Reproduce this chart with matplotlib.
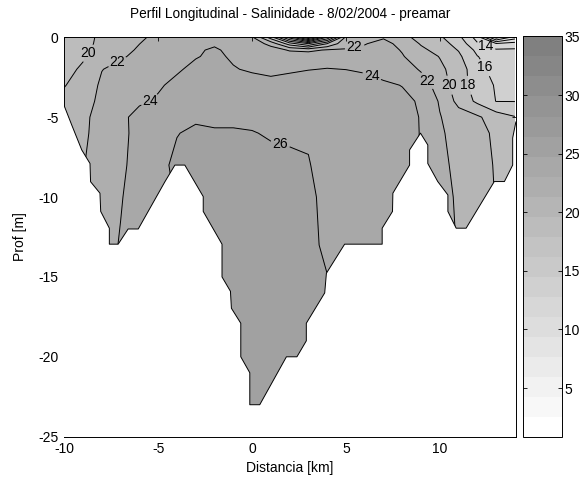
import numpy as np
import matplotlib
matplotlib.use("Agg")
import matplotlib.pyplot as plt
from matplotlib.colors import ListedColormap, Normalize
from matplotlib.cm import ScalarMappable

plt.rcParams['font.family'] = ['Liberation Sans', 'DejaVu Sans']
plt.rcParams['font.size'] = 10
plt.rcParams['axes.unicode_minus'] = False

# Stations along the section (km) and sampling depths (m)
dist_km = [-10, -9, -8, -7, -6, -5, -4, -3, -2, -1, 0, 1, 2, 3, 4,
           5, 6, 7, 8, 9, 10, 11, 12, 13, 14]
depth_m = [0, -0.4, -0.8, -1.2, -2, -3, -4, -5, -6, -8, -10, -13, -16, -20, -25]

# Salinity at each depth, one value per station
sal_00 = [17.9, 19.5, 20.3, 21.2, 21.8, 22.3, 23.0, 23.6, 23.85, 23.6, 22.3, 17.0, 9.0,
          1.5, 10.0, 20.5, 21.7, 21.9, 20.6, 19.3, 18.3, 16.5, 13.2, 5.0, 9.0]
sal_04 = [19.0, 19.5, 20.4, 21.3, 21.98, 22.6, 23.2, 23.7, 23.9, 23.7, 23.3, 21.3, 17.0,
          14.0, 18.0, 21.6, 21.95, 22.3, 21.7, 19.8, 18.8, 17.3, 14.2, 12.2, 12.8]
sal_08 = [19.0, 19.6, 20.6, 21.5, 22.2, 22.9, 23.4, 23.9, 24.1, 23.8, 23.5, 23.0, 21.8,
          21.5, 22.2, 22.1, 22.2, 22.6, 21.9, 20.5, 19.2, 17.9, 15.5, 14.3, 14.3]
sal_12 = [19.3, 19.85, 20.9, 21.8, 22.4, 23.0, 23.5, 23.9, 24.3, 23.8, 23.6, 23.4, 23.2,
          23.3, 23.4, 23.0, 22.9, 22.7, 22.1, 21.2, 19.9, 18.4, 16.05, 15.2, 15.0]
sal_20 = [19.6, 20.2, 21.95, 22.5, 22.9, 23.3, 23.8, 24.4, 24.7, 24.1, 23.8, 23.6, 23.8,
          23.95, 24.05, 23.98, 23.8, 23.3, 22.9, 21.8, 20.5, 18.9, 16.9, 15.0, 14.8]
sal_30 = [19.9, 20.9, 22.3, 22.9, 23.3, 23.8, 24.4, 24.8, 25.0, 24.9, 24.7, 24.5, 24.6,
          24.8, 24.9, 24.8, 24.6, 24.3, 23.95, 22.9, 21.2, 18.8, 17.2, 15.8, 15.4]
sal_40 = [20.6, 21.2, 22.5, 23.2, 23.7, 24.2, 24.7, 25.2, 25.5, 25.6, 25.4, 25.2, 25.2,
          25.4, 25.5, 25.4, 25.1, 24.9, 24.4, 23.8, 21.8, 19.4, 17.6, 15.95, 15.95]
sal_50 = [21.0, 21.6, 22.7, 23.5, 24.7, 25.1, 25.5, 25.8, 25.6, 25.6, 25.5, 25.4, 25.3,
          25.4, 25.5, 25.6, 25.4, 25.1, 24.7, 23.9, 22.1, 20.9, 20.3, 19.0, 18.1]
sal_60 = [21.2, 21.6, 22.9, 23.6, 24.5, 25.3, 25.95, 26.25, 26.2, 26.2, 26.1, 25.8, 25.7,
          25.8, 25.85, 25.8, 25.6, 25.3, 24.9, 23.9, 22.3, 21.2, 20.7, 19.6, 18.6]
sal_80 = [21.5, 21.9, 23.0, 23.7, 24.6, 25.6, 26.3, 26.6, 26.7, 26.7, 26.7, 26.6, 26.4,
          26.1, 25.3, 25.0, 24.9, 24.8, 24.6, 23.9, 22.4, 21.6, 20.9, 19.8, 19.0]
sal_100 = [21.8, 22.2, 23.2, 23.9, 24.7, 25.5, 26.1, 26.5, 26.7, 26.8, 26.8, 26.7, 26.5,
           26.3, 25.6, 25.2, 25.0, 24.8, 24.6, 23.6, 22.5, 21.8, 21.0, 19.9, 19.2]
sal_130 = [22.0, 22.4, 23.4, 24.1, 24.8, 25.5, 26.1, 26.5, 26.8, 26.9, 26.9, 26.8, 26.6,
           26.4, 25.7, 25.2, 25.0, 24.8, 24.5, 23.5, 22.6, 21.9, 21.0, 20.05, 19.3]
sal_160 = [22.0, 22.4, 23.4, 24.1, 24.8, 25.5, 26.1, 26.5, 26.8, 26.9, 27.0, 26.9, 26.7,
           26.5, 26.2, 25.2, 25.0, 24.8, 24.5, 23.5, 22.6, 21.9, 21.0, 20.1, 19.3]
sal_200 = [22.0, 22.4, 23.4, 24.1, 24.8, 25.5, 26.1, 26.5, 26.8, 26.9, 27.0, 26.9, 26.7,
           26.5, 26.2, 25.2, 25.0, 24.8, 24.5, 23.5, 22.6, 21.9, 21.0, 20.1, 19.3]
sal_250 = [22.0, 22.4, 23.4, 24.1, 24.8, 25.5, 26.1, 26.5, 26.8, 26.9, 27.0, 26.9, 26.7,
           26.5, 26.2, 25.2, 25.0, 24.8, 24.5, 23.5, 22.6, 21.9, 21.0, 20.1, 19.3]

# Channel bottom along the section
bottom_x = [-10.0, -9.6, -9.07, -8.63, -8.6, -8.1, -8.06, -7.6, -7.6, -7.13, -6.6, -6.06,
            -4.64, -4.11, -3.58, -2.6, -2.6, -1.6, -1.6, -1.15, -1.1, -0.6, -0.6, -0.12,
            -0.12, 0.41, 1.83, 2.39, 2.89, 2.89, 3.87, 3.96, 4.93, 6.93, 6.93, 7.48, 7.5,
            8.39, 8.39, 8.97, 9.36, 9.36, 9.89, 10.43, 10.43, 10.87, 11.4, 12.9, 13.44,
            13.88, 13.88, 14.05]
bottom_z = [-4.3, -5.5, -7.05, -7.9, -9.04, -9.76, -10.9, -11.95, -12.95, -12.95, -12.0,
            -12.0, -9.04, -8.0, -8.0, -9.97, -10.9, -12.95, -15.0, -15.9, -16.96, -17.9,
            -20.0, -21.0, -23.0, -23.0, -20.0, -20.0, -19.0, -17.9, -16.0, -14.77, -12.95,
            -12.95, -11.95, -10.9, -9.76, -8.0, -7.05, -6.0, -6.74, -7.9, -9.03, -9.87,
            -10.9, -11.95, -11.95, -9.03, -9.03, -8.0, -6.3, -5.3]

# Colour scale
sal_min, sal_max = 0.85, 35.0
contour_levels = list(range(0, 36, 2))
label_levels = [14, 16, 18, 20, 22, 24, 26]
label_pos = [(-8.72, -1.0), (-7.2, -1.5), (-5.44, -3.95), (1.5, -6.7), (5.46, -0.6),
             (6.42, -2.3), (9.35, -2.7), (10.5, -3.0), (11.55, -3.0), (12.4, -1.9),
             (12.45, -0.6)]

n_shades = 20
shades = np.linspace(1.0, 0.5, n_shades)
cmap = ListedColormap([(g, g, g) for g in shades])
norm = Normalize(vmin=sal_min, vmax=sal_max)


def shade_for(value):
    idx = int(np.floor((value - sal_min) / (sal_max - sal_min) * n_shades))
    return cmap(min(max(idx, 0), n_shades - 1))


S = np.array([sal_00, sal_04, sal_08, sal_12, sal_20, sal_30, sal_40, sal_50,
              sal_60, sal_80, sal_100, sal_130, sal_160, sal_200, sal_250])
X, Z = np.meshgrid(np.array(dist_km, float), np.array(depth_m, float))

fig = plt.figure(figsize=(5.87, 4.83), dpi=100)
ax = fig.add_axes([0.1095, 0.0959, 0.769, 0.8269])
cax = fig.add_axes([0.891, 0.0959, 0.0656, 0.8286])

band_colors = [shade_for(lv) for lv in contour_levels[:-1]]
ax.contourf(X, Z, S, levels=contour_levels, colors=band_colors, zorder=1)

# Unlabelled isohalines, then the labelled ones
plain_levels = [lv for lv in contour_levels[1:] if lv not in label_levels]
ax.contour(X, Z, S, levels=plain_levels, colors='k', linewidths=0.7, zorder=2)
cs = ax.contour(X, Z, S, levels=label_levels, colors='k', linewidths=0.7, zorder=2)

# Land below the channel bottom
bx = np.array(bottom_x)
bz = np.array(bottom_z)
poly_x = np.concatenate([bx, [14.6, 14.6, -10.6, -10.6]])
poly_z = np.concatenate([bz, [bz[-1], -30, -30, bz[0]]])
ax.fill(poly_x, poly_z, color='white', lw=0, zorder=3)
ax.plot(bx, bz, color='k', lw=0.7, zorder=4)

ax.clabel(cs, manual=label_pos, fmt='%d', fontsize=10,
          inline=True, inline_spacing=2, zorder=6)
for t in cs.labelTexts:
    t.set_rotation(0)

ax.set_xlim(-10, 14.04)
ax.set_ylim(-25, 0)
ax.set_xticks([-10, -5, 0, 5, 10])
ax.set_yticks([-25, -20, -15, -10, -5, 0])
ax.tick_params(direction='in', length=3, width=0.6, top=True, right=True, pad=4)
for sp in ax.spines.values():
    sp.set_linewidth(0.7)
ax.set_xlabel('Distancia [km]')
ax.xaxis.label.set_va('center')
ax.xaxis.set_label_coords(0.5, -0.079)
ax.set_ylabel('Prof [m]')
ax.yaxis.label.set_va('center')
ax.yaxis.set_label_coords(-0.099, 0.5)
ax.text(0.5, 1.058, 'Perfil Longitudinal - Salinidade - 8/02/2004 - preamar',
        transform=ax.transAxes, ha='center', va='center', fontsize=9.8)

cb = fig.colorbar(ScalarMappable(norm=norm, cmap=cmap), cax=cax)
cb.set_ticks([5, 10, 15, 20, 25, 30, 35])
cb.outline.set_linewidth(0.7)
cax.tick_params(direction='in', length=3, width=0.6, left=True, right=True, pad=2)

fig.savefig('out.png', dpi=100)
